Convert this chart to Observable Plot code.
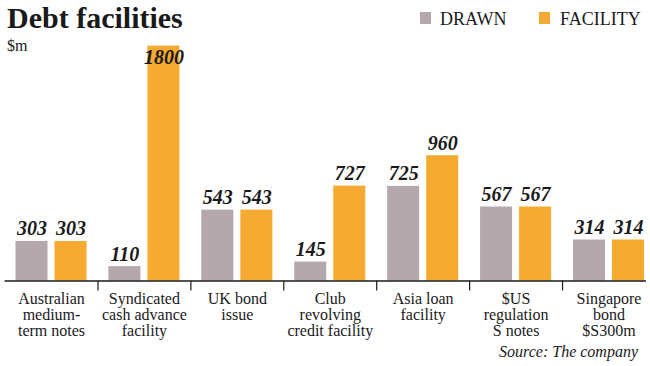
<!DOCTYPE html>
<html>
<head>
<meta charset="utf-8">
<script src="https://cdn.jsdelivr.net/npm/d3@7"></script>
<script src="https://cdn.jsdelivr.net/npm/@observablehq/plot@0.6"></script>
<style>
  html, body { margin: 0; padding: 0; background: #fff; }
  #wrap { position: relative; width: 650px; height: 366px; overflow: hidden; font-family: "Liberation Serif", "DejaVu Serif", serif; color: #1a1a1a; }
  .abs { position: absolute; line-height: 1; white-space: nowrap; font-family: "Liberation Serif", "DejaVu Serif", serif; }
  #title { left: 7px; top: 3px; font-size: 30px; font-weight: bold; }
  #sub { left: 7px; top: 38px; font-size: 16px; }
  .sw { position: absolute; width: 11px; height: 12px; }
  #source { right: 12px; top: 344px; font-size: 16px; font-style: italic; }
  #chart { position: absolute; left: 0; top: 0; }
  #chart svg text { font-family: "Liberation Serif", "DejaVu Serif", serif; }
</style>
</head>
<body>
<div id="wrap">
  <div id="chart"></div>
  <div id="title" class="abs">Debt facilities</div>
  <div id="sub" class="abs">$m</div>
  <div class="sw" style="left:420px; top:12px; background:#b4a8ac"></div>
  <div class="abs" style="left:440px; top:10px; font-size:18px;">DRAWN</div>
  <div class="sw" style="left:539px; top:12px; background:#f6aa31"></div>
  <div class="abs" style="left:560px; top:10px; font-size:18px;">FACILITY</div>
  <div id="source" class="abs">Source: The company</div>
</div>
<script>
const categories = [
  "Australian\nmedium-\nterm notes",
  "Syndicated\ncash advance\nfacility",
  "UK bond\nissue",
  "Club\nrevolving\ncredit facility",
  "Asia loan\nfacility",
  "$US\nregulation\nS notes",
  "Singapore\nbond\n$S300m"
];
const series = ["DRAWN", "FACILITY"];
const drawn = [303, 110, 543, 145, 725, 567, 314];
const facility = [303, 1800, 543, 727, 960, 567, 314];
const colors = ["#b4a8ac", "#f6aa31"];

const rows = [];
categories.forEach((c, i) => {
  rows.push({cat: c, series: "DRAWN", value: drawn[i]});
  rows.push({cat: c, series: "FACILITY", value: facility[i]});
});
const yMax = d3.max(rows, d => d.value);
const serif = "Liberation Serif, DejaVu Serif, serif";
const groupW = (654.95 - 4.55) / categories.length;

const chart = Plot.plot({
  width: 650,
  height: 366,
  marginTop: 45.6,
  marginBottom: 85.5,
  marginLeft: 0,
  marginRight: 0,
  facet: {marginLeft: 0, marginRight: 0, marginTop: 0, marginBottom: 0},
  fx: {domain: categories, range: [4.55, 654.95], padding: 0, axis: null, round: false},
  x: {domain: series, paddingInner: 0.18, paddingOuter: 0.28, axis: null, round: false},
  y: {domain: [0, yMax], axis: null},
  color: {domain: series, range: colors},
  style: {fontFamily: serif, overflow: "visible", background: "transparent"},
  marks: [
    Plot.barY(rows, {fx: "cat", x: "series", y: "value", fill: "series"}),
    Plot.text(rows.filter(d => d.value < yMax), {
      fx: "cat", x: "series", y: "value", text: d => String(d.value), fontFamily: serif,
      lineAnchor: "bottom", dy: -6, fontSize: 20, fontWeight: "bold", fontStyle: "italic", fill: "#1a1a1a"
    }),
    Plot.text(rows.filter(d => d.value === yMax), {
      fx: "cat", x: "series", y: "value", text: d => String(d.value), fontFamily: serif,
      lineAnchor: "bottom", dy: 17.5, fontSize: 20, fontWeight: "bold", fontStyle: "italic", fill: "#1a1a1a"
    }),
    Plot.ruleY(categories.slice(0, -1), {fx: d => d, y: () => 0, stroke: "#1a1a1a", strokeWidth: 1.5}),
    Plot.ruleY(categories.slice(-1), {fx: d => d, y: () => 0, stroke: "#1a1a1a", strokeWidth: 1.5, insetRight: 9}),
    Plot.ruleX(categories.slice(1), {fx: d => d, x: null, stroke: "#1a1a1a", strokeWidth: 1.2,
      dx: -groupW / 2, insetTop: 234.9, insetBottom: -10}),
    Plot.text(categories, {fx: d => d, text: d => d, frameAnchor: "bottom", lineAnchor: "top", fontFamily: serif,
      dy: 12, fontSize: 16, lineHeight: 1.0, fill: "#1a1a1a"})
  ]
});
document.getElementById("chart").appendChild(chart);
</script>
</body>
</html>
